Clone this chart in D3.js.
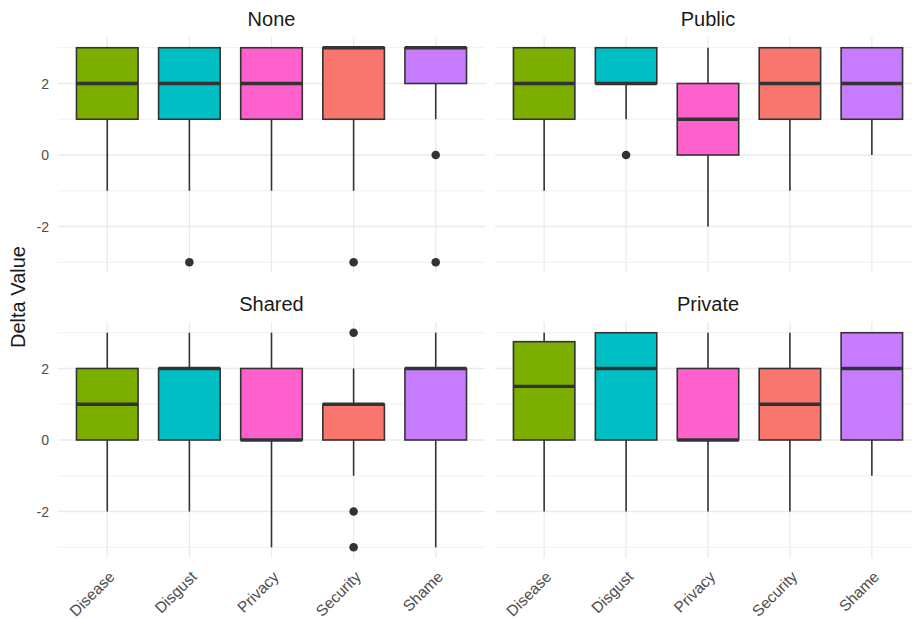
<!DOCTYPE html>
<html>
<head>
<meta charset="utf-8">
<script src="https://cdn.jsdelivr.net/npm/d3@7"></script>
<style>
  html, body { margin: 0; padding: 0; background: #ffffff; }
  svg { display: block; font-family: "Liberation Sans", Arial, Helvetica, sans-serif; }
</style>
</head>
<body>
<svg id="chart" width="912" height="620"></svg>
<script>
// Categories along the x axis and facet names
const categories = ["Disease", "Disgust", "Privacy", "Security", "Shame"];
const facets = ["None", "Public", "Shared", "Private"];
const fillColors = ["#7CAE00", "#00BFC4", "#FF61CC", "#F8766D", "#C77CFF"];

// Box statistics per facet: [lower whisker, Q1, median, Q3, upper whisker]
const statsNone = [[-1, 1, 2, 3, 3], [-1, 1, 2, 3, 3], [-1, 1, 2, 3, 3], [-1, 1, 3, 3, 3], [1, 2, 3, 3, 3]];
const statsPublic = [[-1, 1, 2, 3, 3], [1, 2, 2, 3, 3], [-2, 0, 1, 2, 3], [-1, 1, 2, 3, 3], [0, 1, 2, 3, 3]];
const statsShared = [[-2, 0, 1, 2, 3], [-2, 0, 2, 2, 3], [-3, 0, 0, 2, 3], [-1, 0, 1, 1, 2], [-3, 0, 2, 2, 3]];
const statsPrivate = [[-2, 0, 1.5, 2.75, 3], [-2, 0, 2, 3, 3], [-2, 0, 0, 2, 3], [-2, 0, 1, 2, 3], [-1, 0, 2, 3, 3]];

// Outlying points per facet and category
const outliersNone = [[], [-3], [], [-3], [0, -3]];
const outliersPublic = [[], [0], [], [], []];
const outliersShared = [[], [], [], [3, -2, -3], []];
const outliersPrivate = [[], [], [], [], []];

// Axis ticks
const yMajorTicks = [-2, 0, 2];
const yMinorTicks = [-3, -1, 1, 3];
const yDomain = [-3.3, 3.3];
const yTitle = "Delta Value";

const panelStats = [statsNone, statsPublic, statsShared, statsPrivate];
const panelOutliers = [outliersNone, outliersPublic, outliersShared, outliersPrivate];

const svg = d3.select("#chart");
svg.append("rect").attr("width", 912).attr("height", 620).attr("fill", "#ffffff");

// Facet grid geometry (2 x 2)
const colExtents = [[58, 485], [495, 921]];
const rowExtents = [[37, 273], [322, 558]];

const ink = "#333333";

facets.forEach((name, i) => {
  const col = i % 2, row = Math.floor(i / 2);
  const [x0, x1] = colExtents[col];
  const [y0, y1] = rowExtents[row];

  const x = d3.scalePoint().domain(categories).range([x0, x1]).padding(0.6);
  const y = d3.scaleLinear().domain(yDomain).range([y1, y0]);
  const boxW = x.step() * 0.75;

  const g = svg.append("g");

  // grid
  g.selectAll(".minor").data(yMinorTicks).join("line")
    .attr("x1", x0).attr("x2", x1)
    .attr("y1", d => y(d)).attr("y2", d => y(d))
    .attr("stroke", "#f0f0f0").attr("stroke-width", 1);
  g.selectAll(".major").data(yMajorTicks).join("line")
    .attr("x1", x0).attr("x2", x1)
    .attr("y1", d => y(d)).attr("y2", d => y(d))
    .attr("stroke", "#ebebeb").attr("stroke-width", 1.3);
  g.selectAll(".vgrid").data(categories).join("line")
    .attr("x1", d => x(d)).attr("x2", d => x(d))
    .attr("y1", y0).attr("y2", y1)
    .attr("stroke", "#ebebeb").attr("stroke-width", 1.3);

  const stats = panelStats[i];
  const outs = panelOutliers[i];

  categories.forEach((c, k) => {
    const [lo, q1, med, q3, hi] = stats[k];
    const cx = x(c);
    // whiskers
    g.append("line").attr("x1", cx).attr("x2", cx)
      .attr("y1", y(lo)).attr("y2", y(q1))
      .attr("stroke", ink).attr("stroke-width", 1.6);
    g.append("line").attr("x1", cx).attr("x2", cx)
      .attr("y1", y(q3)).attr("y2", y(hi))
      .attr("stroke", ink).attr("stroke-width", 1.6);
    // box
    g.append("rect")
      .attr("x", cx - boxW / 2).attr("width", boxW)
      .attr("y", y(q3)).attr("height", Math.max(0.01, y(q1) - y(q3)))
      .attr("fill", fillColors[k])
      .attr("stroke", ink).attr("stroke-width", 1.6);
    // median
    g.append("line")
      .attr("x1", cx - boxW / 2).attr("x2", cx + boxW / 2)
      .attr("y1", y(med)).attr("y2", y(med))
      .attr("stroke", ink).attr("stroke-width", 3.4);
    // outliers
    g.selectAll(null).data(outs[k]).join("circle")
      .attr("cx", cx).attr("cy", d => y(d)).attr("r", 4.3)
      .attr("fill", ink);
  });

  // strip title
  svg.append("text")
    .attr("x", (x0 + x1) / 2).attr("y", y0 - 11)
    .attr("text-anchor", "middle")
    .attr("font-size", 20).attr("fill", "#1a1a1a")
    .text(name);

  // y tick labels on the left column
  if (col === 0) {
    svg.append("g").selectAll("text").data(yMajorTicks).join("text")
      .attr("x", x0 - 9).attr("y", d => y(d))
      .attr("dy", "0.36em")
      .attr("text-anchor", "end")
      .attr("font-size", 14).attr("fill", "#4d4d4d")
      .text(d => d < 0 ? "-" + Math.abs(d) : d);
  }

  // x tick labels on the bottom row
  if (row === 1) {
    svg.append("g").selectAll("text").data(categories).join("text")
      .attr("transform", d => `translate(${x(d) + 0.5},${y1 + 12}) rotate(-45)`)
      .attr("dy", "0.71em")
      .attr("text-anchor", "end")
      .attr("font-size", 15.5).attr("fill", "#4d4d4d")
      .text(d => d);
  }
});

// y axis title
svg.append("text")
  .attr("transform", "translate(25,297) rotate(-90)")
  .attr("text-anchor", "middle")
  .attr("font-size", 20).attr("fill", "#1a1a1a")
  .text(yTitle);
</script>
</body>
</html>
